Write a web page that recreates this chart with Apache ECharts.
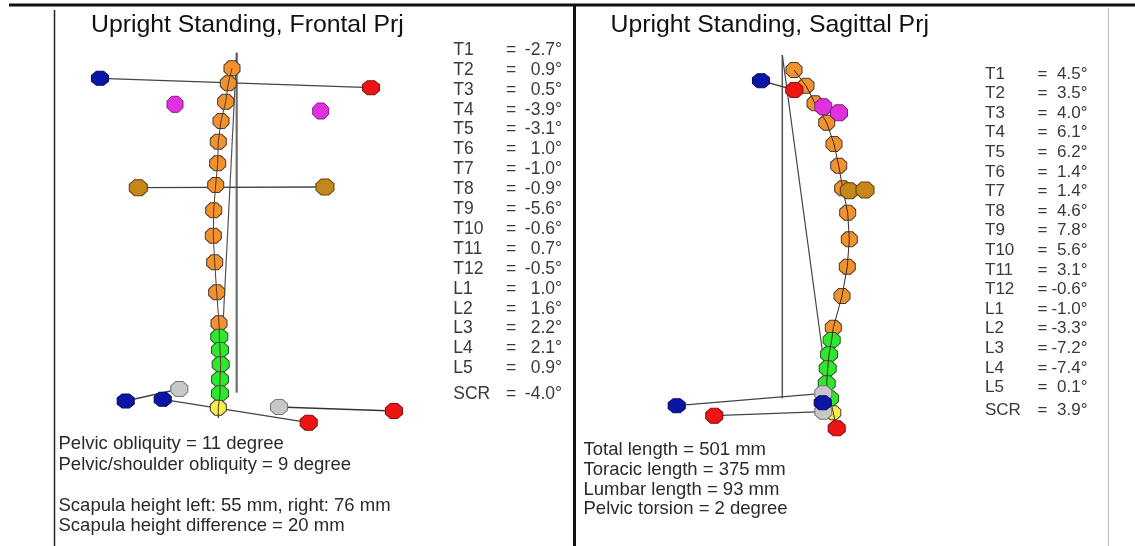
<!DOCTYPE html>
<html><head><meta charset="utf-8">
<script src="https://cdn.jsdelivr.net/npm/echarts@6/dist/echarts.min.js"></script>
<style>html,body{margin:0;padding:0;background:#fff}#c{width:1135px;height:546px}</style>
</head><body><div id="c"></div>
<script>
// ---------- data (figure coordinates) ----------
const levels = ['T1','T2','T3','T4','T5','T6','T7','T8','T9','T10','T11','T12','L1','L2','L3','L4','L5','SCR'];
const frontalAngles  = [-2.7,0.9,0.5,-3.9,-3.1,1.0,-1.0,-0.9,-5.6,-0.6,0.7,-0.5,1.0,1.6,2.2,2.1,0.9,-4.0];
const sagittalAngles = [4.5,3.5,4.0,6.1,6.2,1.4,1.4,4.6,7.8,5.6,3.1,-0.6,-1.0,-3.3,-7.2,-7.4,0.1,3.9];
const frontalTitle  = 'Upright Standing, Frontal Prj';
const sagittalTitle = 'Upright Standing, Sagittal Prj';
const frontalNotes  = ['Pelvic obliquity = 11 degree','Pelvic/shoulder obliquity = 9 degree','','Scapula height left: 55 mm, right: 76 mm','Scapula height difference = 20 mm'];
const sagittalNotes = ['Total length = 501 mm','Toracic length = 375 mm','Lumbar length = 93 mm','Pelvic torsion = 2 degree'];

// frontal projection
const frontalThoracic = [[232,68.3],[228.3,83.3],[225.7,101.7],[221,121],[218.3,141.7],[217.7,163.3],[215.7,185],[213.7,210.3],[213.3,235.7],[214.7,262.3],[216.7,292.3],[219,323.3]];
const frontalLumbar   = [[219.3,336.7],[220,350],[220.7,364.3],[220,379.3],[220,393.3]];
const frontalSacrum   = [[218.3,407.7]];
const frontalShoulderL = [[100,78.3]];
const frontalShoulderR = [[371,87.7]];
const frontalScapTop   = [[175,104.3],[320.7,111]];
const frontalScapLow   = [[138.3,187.7],[325,187]];
const frontalPelvisBlue = [[125.7,401],[162.7,399.3]];
const frontalPelvisGrey = [[179.3,389],[279,407]];
const frontalPelvisRed  = [[308.7,422.7],[394,411]];
const frontalPlumb = [[236.7,52.7],[236.7,392.7]];
const frontalAxis  = [[236.7,52.7],[218.3,418]];

// sagittal projection
const sagThoracic = [[794,70],[806,85.7],[815,103.3],[826.7,122.7],[834,144],[838.7,165.7],[842.7,188.3],[847.7,212.7],[849.3,239.3],[847.3,266.7],[842,296],[833.3,327.7]];
const sagLumbar   = [[831.7,340],[829,354.3],[827.7,368.3],[826.7,383.3],[830,398.3]];
const sagSacrum   = [[833.3,412.7]];
const sagGrey     = [[823.3,393.3],[823.3,411.7]];
const sagBlue     = [[761,80.7],[676.7,405.7],[822.7,402.7]];
const sagRed      = [[794.3,90],[714.3,415.7],[836.7,428.3]];
const sagMagenta  = [[823.3,106.7],[839,112.7]];
const sagBrown    = [[849.3,190.7],[865,190]];
const sagPlumb = [[782.3,55],[782.3,398.3]];
const sagAxis  = [[782.3,55],[827,385]];

// ---------- build ----------
const oct = 'path://M29,0 L71,0 L100,29 L100,71 L71,100 L29,100 L0,71 L0,29 Z';
const FONT = '"Liberation Sans", Arial, sans-serif';
function dots(data, color, size, z, border) {
  return {type:'scatter', data, symbol:oct, symbolSize:size, z, silent:true,
    itemStyle:{color, borderColor:border||'#4a3b2e', borderWidth:1, opacity:1}};
}
function seg(data, color, width, z) {
  return {type:'line', data, symbol:'none', z, silent:true, lineStyle:{color, width}};
}
const spineF = frontalThoracic.concat(frontalLumbar, frontalSacrum, [[218.3,418]]);
const spineS = sagThoracic.concat(sagLumbar, sagSacrum, [sagRed[2]]);

const series = [
  seg(frontalPlumb,'#6e6e6e',2.2,1),
  seg(frontalAxis,'#555',1.2,1),
  seg([frontalShoulderL[0],frontalShoulderR[0]],'#444',1.3,1),
  seg(frontalScapLow,'#444',1.3,1),
  seg([frontalPelvisBlue[0],frontalPelvisGrey[0]],'#444',1.3,1),
  seg([frontalPelvisBlue[1],frontalPelvisRed[0]],'#444',1.3,1),
  seg([frontalPelvisGrey[1],frontalPelvisRed[1]],'#333',1.3,1),
  seg(sagPlumb,'#555',1.5,1),
  seg(sagAxis,'#444',1.2,1),
  seg([sagBlue[1],sagGrey[0]],'#444',1.3,1),
  seg([sagRed[1],sagGrey[1]],'#444',1.3,1),
  seg([sagBlue[0],sagRed[0]],'#444',1.3,1),
  dots(frontalThoracic,'#f2922e',[16,15],2),
  dots(frontalLumbar,'#2ee82e',[17,15],2,'#2f5a2f'),
  dots(frontalSacrum,'#f4ee4c',[16,15],2),
  dots(frontalShoulderL,'#0a16a6',[17,14],2,'#0a0a60'),
  dots(frontalShoulderR,'#ee1414',[17,14],2,'#801010'),
  dots(frontalPelvisBlue,'#0a16a6',[17,14],2,'#0a0a60'),
  dots(frontalPelvisRed,'#ee1414',[17,15],2,'#801010'),
  dots(frontalPelvisGrey,'#c8c8c8',[17,15],2,'#777'),
  dots(frontalScapTop,'#e030e0',[16,16],2,'#802080'),
  dots(frontalScapLow,'#c4881a',[18,16],2,'#5a4010'),
  seg(spineF,'#5a3a26',1,3),
  dots(sagThoracic,'#f2922e',[16,15],2),
  dots(sagLumbar,'#2ee82e',[17,15],2,'#2f5a2f'),
  dots(sagSacrum,'#f4ee4c',[15,14],2),
  seg(spineS,'#3a2a20',1,3),
  dots(sagGrey,'#c8c8c8',[17,15],4,'#777'),
  dots(sagMagenta,'#e030e0',[17,16],4,'#802080'),
  dots(sagBrown,'#c4881a',[18,16],4,'#5a4010'),
  dots(sagBlue,'#0a16a6',[17,14],5,'#0a0a60'),
  dots(sagRed,'#ee1414',[17,15],5,'#801010')
];

function fmt(v){ return (v<0?'-':'') + Math.abs(v).toFixed(1) + '\u00b0'; }
function txt(text,x,y,size,align,fill){
  return {type:'text', x, y, silent:true, z:10,
    style:{text, fontSize:size, fontFamily:FONT, fill:fill||'#1e1e1e', align:align||'left', verticalAlign:'middle'}};
}
const graphics = [
  {type:'line', shape:{x1:9,y1:5,x2:1135,y2:5}, style:{stroke:'#111',lineWidth:3}},
  {type:'line', shape:{x1:54.5,y1:10,x2:54.5,y2:546}, style:{stroke:'#222',lineWidth:1.5}},
  {type:'line', shape:{x1:574.5,y1:6,x2:574.5,y2:546}, style:{stroke:'#111',lineWidth:3}},
  {type:'line', shape:{x1:1108.5,y1:8,x2:1108.5,y2:546}, style:{stroke:'#c4c4c4',lineWidth:1.2}},
  txt(frontalTitle,91,25.5,24.8,'left','#111'),
  txt(sagittalTitle,610.5,25,24.8,'left','#111')
];
const LC = '#3a3a3a';
levels.forEach((lv,i)=>{
  const yF = i<17 ? 50 + i*19.9 : 394.3;
  const yS = i<17 ? 74 + i*19.6 : 410.7;
  graphics.push(txt(lv,453.3,yF,17.5,'left',LC));
  graphics.push(txt('=',506,yF,17.5,'left',LC));
  graphics.push(txt(fmt(frontalAngles[i]),562,yF,17.5,'right',LC));
  graphics.push(txt(lv,985,yS,17,'left',LC));
  graphics.push(txt('=',1037.5,yS,17,'left',LC));
  graphics.push(txt(fmt(sagittalAngles[i]),1087.5,yS,17,'right',LC));
});
frontalNotes.forEach((t,i)=>{ if(t) graphics.push(txt(t,58.5,444.3+i*20.5,18.5,'left','#2a2a2a')); });
sagittalNotes.forEach((t,i)=>{ graphics.push(txt(t,583.5,450+i*19.8,18.5,'left','#2a2a2a')); });

const chart = echarts.init(document.getElementById('c'), null, {renderer:'canvas'});
chart.setOption({
  animation:false,
  backgroundColor:'#fff',
  grid:{left:0,right:0,top:0,bottom:0},
  xAxis:{type:'value',min:0,max:1135,show:false},
  yAxis:{type:'value',min:0,max:546,inverse:true,show:false},
  series,
  graphic:graphics
});
</script></body></html>
